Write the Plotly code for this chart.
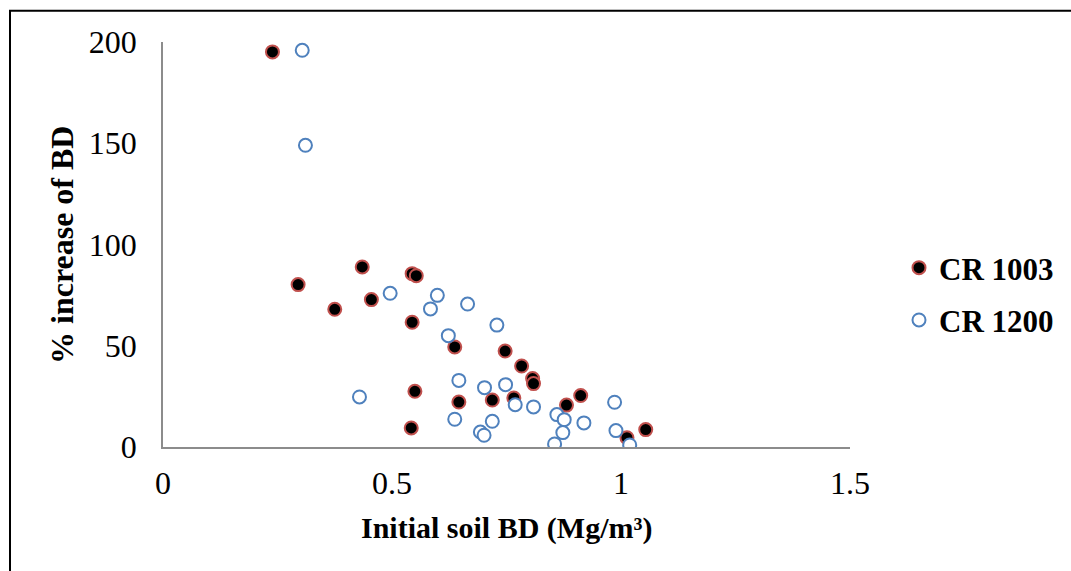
import plotly.graph_objects as go

# ---- data ----
cr1003_bd = [0.239, 0.295, 0.375, 0.435, 0.455, 0.544, 0.553, 0.544, 0.637, 0.747, 0.783,
             0.807, 0.809, 0.550, 0.646, 0.719, 0.766, 0.542, 0.912, 0.881, 1.054, 1.013]
cr1003_inc = [195.1, 80.2, 68.0, 88.9, 72.8, 85.6, 84.6, 61.6, 49.4, 47.4, 40.0,
              33.8, 31.3, 27.5, 22.2, 23.2, 24.2, 9.4, 25.4, 20.7, 8.6, 4.6]

cr1200_bd = [0.304, 0.311, 0.496, 0.599, 0.584, 0.665, 0.729, 0.623, 0.646, 0.702, 0.748,
             0.429, 0.769, 0.809, 0.637, 0.719, 0.693, 0.701, 0.860, 0.876, 0.919, 0.873,
             0.855, 0.986, 0.989, 1.019]
cr1200_inc = [195.9, 149.0, 75.9, 74.9, 68.2, 70.6, 60.2, 55.0, 32.9, 29.3, 30.8,
              24.7, 20.9, 19.8, 13.7, 12.7, 7.4, 5.8, 16.0, 13.5, 11.9, 7.1,
              1.5, 22.1, 8.1, 1.0]

series_names = ["CR 1003", "CR 1200"]
x_ticks = [0, 0.5, 1, 1.5]
x_tick_text = ["0", "0.5", "1", "1.5"]
y_ticks = [0, 50, 100, 150, 200]
x_title = "Initial soil BD (Mg/m³)"
y_title = "% increase of BD"

# ---- layout geometry ----
W, H = 1071, 571
L, R, T, B = 163, 221, 42, 124
PW, PH = W - L - R, H - T - B
FONT = "Liberation Serif, Times New Roman, serif"


def px_x(px):
    return (px - L) / PW


def px_y(py):
    return (H - B - py) / PH


fig = go.Figure()
fig.add_trace(go.Scatter(
    x=cr1003_bd, y=cr1003_inc, mode="markers", name=series_names[0],
    legendgroup="a",
    marker=dict(symbol="circle", size=13, color="black",
                line=dict(color="#C0504D", width=2)),
))
fig.add_trace(go.Scatter(
    x=cr1200_bd, y=cr1200_inc, mode="markers", name=series_names[1],
    legendgroup="b",
    marker=dict(symbol="circle", size=13, color="white",
                line=dict(color="#4F81BD", width=2)),
))

axis_common = dict(
    showgrid=False, zeroline=False, showline=True, linecolor="#8C8C8C", linewidth=1.5,
    ticks="", tickfont=dict(family=FONT, size=32, color="black"), automargin=False,
)
fig.update_xaxes(range=[0, 1.5], tickvals=x_ticks, ticktext=x_tick_text,
                 ticklabelstandoff=7, **axis_common)
fig.update_yaxes(range=[0, 200], tickvals=y_ticks, ticklabelstandoff=18, **axis_common)

fig.add_annotation(text=x_title, xref="paper", yref="paper",
                   x=0.5, y=px_y(528), xanchor="center", yanchor="middle",
                   showarrow=False,
                   font=dict(family=FONT, size=30, color="black", weight="bold"))
fig.add_annotation(text=y_title, xref="paper", yref="paper",
                   x=px_x(62), y=px_y(245), xanchor="center", yanchor="middle",
                   textangle=-90, showarrow=False,
                   font=dict(family=FONT, size=32, color="black", weight="bold"))

# outer frame (top and left edges visible in the reference)
fig.add_shape(type="path", xref="paper", yref="paper",
              path=f"M {px_x(10)},{px_y(600)} L {px_x(10)},{px_y(10.7)} L {px_x(1100)},{px_y(10.7)}",
              line=dict(color="black", width=2))

fig.update_layout(
    width=W, height=H,
    margin=dict(l=L, r=R, t=T, b=B, autoexpand=False),
    paper_bgcolor="white", plot_bgcolor="white",
    font=dict(family=FONT, color="black"),
    legend=dict(x=px_x(899), y=px_y(241), xanchor="left", yanchor="top",
                font=dict(family=FONT, size=31, color="black", weight="bold"),
                tracegroupgap=9, bgcolor="rgba(0,0,0,0)", traceorder="grouped"),
    showlegend=True,
)

fig.write_html("out.html", config={"displayModeBar": False},
               post_script="document.body.style.margin='0px';document.body.style.padding='0px';")
